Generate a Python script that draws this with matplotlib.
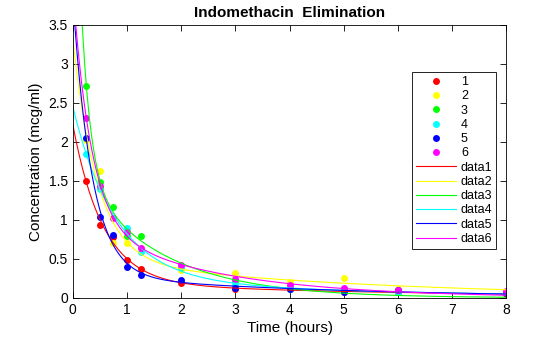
import numpy as np
import matplotlib
matplotlib.use("Agg")
import matplotlib.pyplot as plt

plt.rcParams['font.family'] = ['Liberation Sans', 'DejaVu Sans']

time = [0.25, 0.5, 0.75, 1, 1.25, 2, 3, 4, 5, 6, 8]
subj1 = [1.50, 0.94, 0.78, 0.48, 0.37, 0.19, 0.12, 0.11, 0.08, 0.07, 0.05]
subj2 = [2.03, 1.63, 0.71, 0.70, 0.64, 0.36, 0.32, 0.20, 0.25, 0.12, 0.08]
subj3 = [2.72, 1.49, 1.16, 0.80, 0.80, 0.39, 0.22, 0.12, 0.11, 0.08, 0.08]
subj4 = [1.85, 1.39, 1.02, 0.89, 0.59, 0.40, 0.16, 0.11, 0.10, 0.07, 0.07]
subj5 = [2.05, 1.04, 0.81, 0.39, 0.30, 0.23, 0.13, 0.11, 0.08, 0.10, 0.06]
subj6 = [2.31, 1.44, 1.03, 0.84, 0.64, 0.42, 0.24, 0.17, 0.13, 0.10, 0.09]
subjects = [subj1, subj2, subj3, subj4, subj5, subj6]
labels = ['1', '2', '3', '4', '5', '6']
colors = ['#ff0000', '#ffff00', '#00ff00', '#00ffff', '#0000ff', '#ff00ff']

# biexponential fit parameters per subject: A1, lrc1, A2, lrc2
A1 = [2.029277, 2.827673, 5.468640, 2.198397, 3.566211, 3.002665]
lrc1 = [0.5793887, 0.8013919, 1.7497398, 0.2423259, 1.0407609, 1.0882031]
A2 = [0.1915475, 0.4989175, 1.6757478, 0.2545650, 0.2914970, 0.9685272]
lrc2 = [-1.7877849, -1.6353512, -0.4122004, -1.6026544, -1.5068522, -0.8731826]

fig = plt.figure(figsize=(5.6, 3.37), dpi=100)
ax = fig.add_axes([0.130, 0.116, 0.774, 0.810])

for s, lab, c in zip(subjects, labels, colors):
    ax.plot(time, s, 'o', color=c, markersize=5, markeredgewidth=0, label=lab)

tt = np.linspace(0, 8, 400)
for i, c in enumerate(colors):
    yy = A1[i] * np.exp(-np.exp(lrc1[i]) * tt) + A2[i] * np.exp(-np.exp(lrc2[i]) * tt)
    ax.plot(tt, yy, '-', color=c, linewidth=0.8, label='data%d' % (i + 1))

ax.set_xlim(0, 8)
ax.set_ylim(0, 3.5)
ax.set_xticks(range(0, 9))
ax.set_yticks([0, 0.5, 1, 1.5, 2, 2.5, 3, 3.5])
ax.set_yticklabels(['0', '0.5', '1', '1.5', '2', '2.5', '3', '3.5'])
ax.tick_params(direction='in', length=4, width=0.6, labelsize=10, top=True, right=True,
               labeltop=False, labelright=False)
for sp in ax.spines.values():
    sp.set_linewidth(0.6)

ax.set_xlabel('Time (hours)', fontsize=11, labelpad=3)
ax.set_ylabel('Concentration (mcg/ml)', fontsize=11, labelpad=4)
ax.set_title('Indomethacin  Elimination', fontsize=11, fontweight='bold', pad=6)

leg = ax.legend(loc='upper right', bbox_to_anchor=(0.977, 0.826), fontsize=9,
                frameon=True, fancybox=False, edgecolor='black', framealpha=1,
                handlelength=3.2, handletextpad=0.4, borderpad=0.3, labelspacing=0.18,
                borderaxespad=0)
leg.get_frame().set_linewidth(0.6)

fig.savefig('out.png', dpi=100)
